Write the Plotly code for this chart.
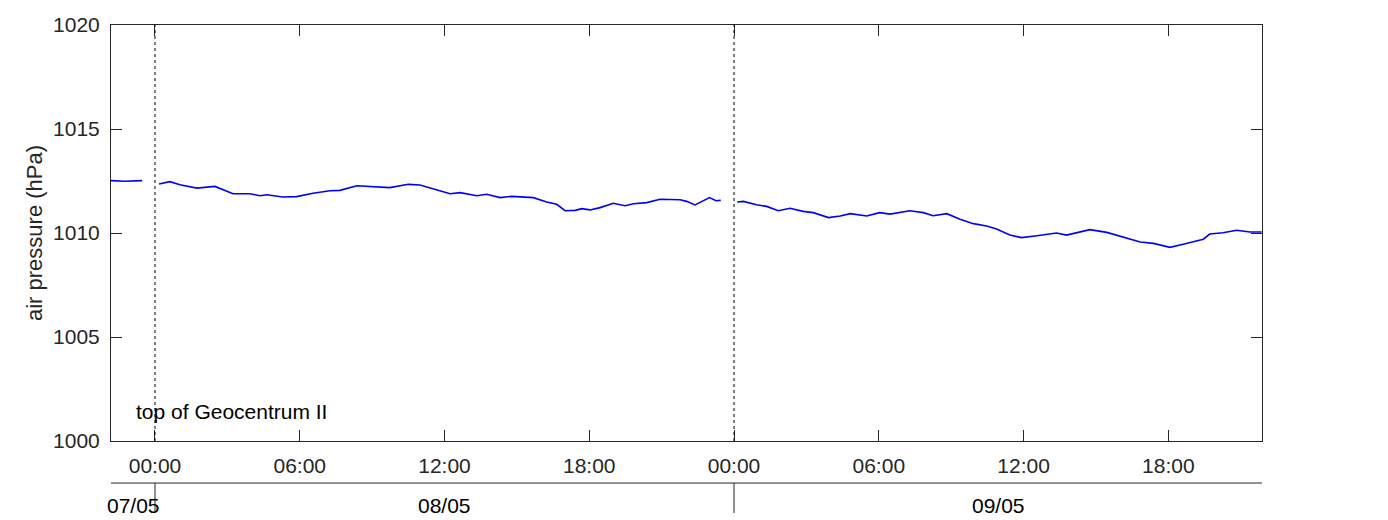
import plotly.graph_objects as go
import pandas as pd

# ---- data ----
seg1_time = ["2023-05-07 22:10", "2023-05-07 22:45", "2023-05-07 23:28"]
seg1_hpa = [1012.52, 1012.49, 1012.52]

seg2_time = ["2023-05-08 00:10", "2023-05-08 00:37", "2023-05-08 01:02", "2023-05-08 01:44",
             "2023-05-08 02:29", "2023-05-08 03:14", "2023-05-08 03:56", "2023-05-08 04:21",
             "2023-05-08 04:38", "2023-05-08 05:18", "2023-05-08 05:52", "2023-05-08 06:33",
             "2023-05-08 07:15", "2023-05-08 07:40", "2023-05-08 08:22", "2023-05-08 09:11",
             "2023-05-08 09:44", "2023-05-08 10:30", "2023-05-08 10:59", "2023-05-08 11:31",
             "2023-05-08 12:14", "2023-05-08 12:39", "2023-05-08 13:20", "2023-05-08 13:45",
             "2023-05-08 14:18", "2023-05-08 14:47", "2023-05-08 15:41", "2023-05-08 16:14",
             "2023-05-08 16:39", "2023-05-08 17:00", "2023-05-08 17:25", "2023-05-08 17:41",
             "2023-05-08 18:02", "2023-05-08 18:27", "2023-05-08 19:00", "2023-05-08 19:29",
             "2023-05-08 19:50", "2023-05-08 20:23", "2023-05-08 20:56", "2023-05-08 21:46",
             "2023-05-08 22:02", "2023-05-08 22:23", "2023-05-08 22:35", "2023-05-08 22:59",
             "2023-05-08 23:15", "2023-05-08 23:27"]
seg2_hpa = [1012.36, 1012.47, 1012.32, 1012.16,
            1012.24, 1011.89, 1011.89, 1011.79,
            1011.84, 1011.73, 1011.75, 1011.91,
            1012.03, 1012.05, 1012.27, 1012.23,
            1012.18, 1012.34, 1012.31, 1012.13,
            1011.89, 1011.94, 1011.79, 1011.86,
            1011.70, 1011.76, 1011.70, 1011.49,
            1011.38, 1011.07, 1011.09, 1011.17,
            1011.11, 1011.22, 1011.43, 1011.31,
            1011.41, 1011.46, 1011.62, 1011.60,
            1011.52, 1011.35, 1011.46, 1011.70,
            1011.55, 1011.57]

seg3_time = ["2023-05-09 00:08", "2023-05-09 00:23", "2023-05-09 00:56", "2023-05-09 01:21",
             "2023-05-09 01:50", "2023-05-09 02:19", "2023-05-09 02:52", "2023-05-09 03:17",
             "2023-05-09 03:55", "2023-05-09 04:24", "2023-05-09 04:49", "2023-05-09 05:30",
             "2023-05-09 06:02", "2023-05-09 06:28", "2023-05-09 07:17", "2023-05-09 07:51",
             "2023-05-09 08:15", "2023-05-09 08:49", "2023-05-09 09:22", "2023-05-09 09:55",
             "2023-05-09 10:28", "2023-05-09 10:53", "2023-05-09 11:26", "2023-05-09 11:55",
             "2023-05-09 12:33", "2023-05-09 13:22", "2023-05-09 13:47", "2023-05-09 14:45",
             "2023-05-09 15:27", "2023-05-09 16:00", "2023-05-09 16:50", "2023-05-09 17:23",
             "2023-05-09 18:04", "2023-05-09 18:37", "2023-05-09 19:27", "2023-05-09 19:43",
             "2023-05-09 20:16", "2023-05-09 20:50", "2023-05-09 21:23", "2023-05-09 21:52"]
seg3_hpa = [1011.49, 1011.52, 1011.36, 1011.28,
            1011.07, 1011.19, 1011.04, 1010.98,
            1010.74, 1010.82, 1010.93, 1010.82,
            1010.98, 1010.91, 1011.07, 1010.98,
            1010.83, 1010.93, 1010.66, 1010.45,
            1010.34, 1010.19, 1009.90, 1009.78,
            1009.87, 1010.00, 1009.90, 1010.16,
            1010.03, 1009.86, 1009.57, 1009.50,
            1009.31, 1009.46, 1009.70, 1009.95,
            1010.01, 1010.13, 1010.05, 1010.05]

x_range = ["2023-05-07 22:10:36", "2023-05-09 21:53:00"]
y_range = [1000, 1020]
y_ticks = [1000, 1005, 1010, 1015, 1020]
midnights = ["2023-05-08 00:00", "2023-05-09 00:00"]
day_labels = ["07/05", "08/05", "09/05"]
station_label = "top of Geocentrum II"
y_title = "air pressure (hPa)"

# ---- figure ----
FONT = "Liberation Sans, Arial, sans-serif"
AX = "#262626"
FS = 21

times = seg1_time + [None] + seg2_time + [None] + seg3_time
vals = seg1_hpa + [None] + seg2_hpa + [None] + seg3_hpa

fig = go.Figure()
fig.add_trace(go.Scatter(x=times, y=vals, mode="lines", connectgaps=False,
                         line=dict(color="#0000ff", width=1.6), hoverinfo="x+y"))

shapes = []
for m in midnights:
    # dotted day separator inside the plot
    shapes.append(dict(type="line", xref="x", yref="paper", x0=m, x1=m, y0=0, y1=1,
                       line=dict(color="black", width=1, dash="dot")))
    # day boundary tick on the date axis
    shapes.append(dict(type="line", xref="x", yref="paper", x0=m, x1=m, y0=-0.101, y1=-0.173,
                       line=dict(color=AX, width=1)))
# date axis line
shapes.append(dict(type="line", xref="paper", yref="paper", x0=0, x1=1, y0=-0.101, y1=-0.101,
                   line=dict(color=AX, width=1)))

t0 = pd.Timestamp(x_range[0]); t1 = pd.Timestamp(x_range[1])
m0 = pd.Timestamp(midnights[0]); m1 = pd.Timestamp(midnights[1])
label_pos = [t0 + (m0 - t0) / 2, m0 + (m1 - m0) / 2, m1 + (t1 - m1) / 2]

annotations = []
for lbl, pos in zip(day_labels, label_pos):
    annotations.append(dict(x=pos, y=-0.154, xref="x", yref="paper", text=lbl,
                            showarrow=False, xanchor="center", yanchor="middle",
                            font=dict(family=FONT, size=FS, color="black")))
annotations.append(dict(x=0.02, y=0.07, xref="paper", yref="paper", text=station_label,
                        showarrow=False, xanchor="left", yanchor="middle",
                        font=dict(family=FONT, size=FS, color="black")))

fig.update_layout(
    width=1388, height=520,
    margin=dict(l=111, r=126, t=25, b=79),
    paper_bgcolor="white", plot_bgcolor="white",
    showlegend=False,
    font=dict(family=FONT, size=FS, color=AX),
    shapes=shapes, annotations=annotations,
    xaxis=dict(type="date", range=x_range, tick0="2023-05-08 00:00", dtick=6 * 3600 * 1000,
               tickformat="%H:%M", ticks="inside", ticklen=11, tickcolor=AX, tickwidth=1,
               showline=True, linecolor=AX, linewidth=1, mirror="ticks", showgrid=False,
               zeroline=False, ticklabelstandoff=6, tickfont=dict(size=FS, color=AX)),
    yaxis=dict(range=y_range, tickvals=y_ticks, ticks="inside", ticklen=11, tickcolor=AX,
               tickwidth=1, showline=True, linecolor=AX, linewidth=1, mirror="ticks",
               showgrid=False, zeroline=False, ticklabelstandoff=6,
               tickfont=dict(size=FS, color=AX),
               title=dict(text=y_title, font=dict(size=22, color=AX), standoff=4)),
)

fig.write_html("out.html", config={"displayModeBar": False},
               post_script="document.body.style.margin='0px';document.body.style.padding='0px';")
